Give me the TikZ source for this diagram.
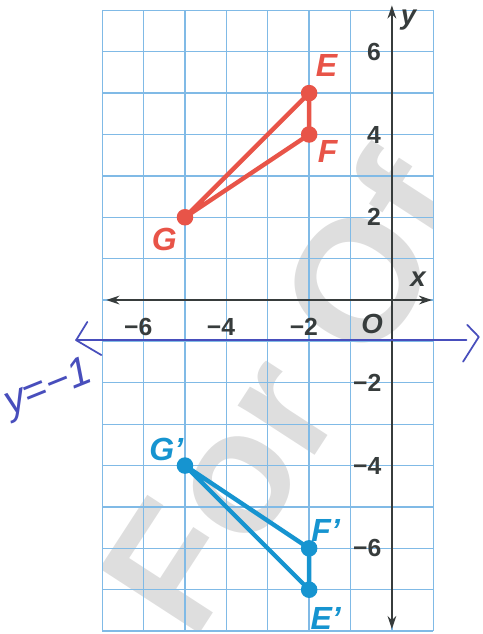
\documentclass[tikz,border=0pt]{standalone}
\usepackage{fontspec}
\setmainfont{Liberation Sans}
\usepackage{tikz}
\usetikzlibrary{arrows.meta,positioning}
\definecolor{gridblue}{RGB}{128,186,230}
\definecolor{axisgray}{RGB}{55,60,60}
\definecolor{ptred}{RGB}{232,84,72}
\definecolor{ptblue}{RGB}{22,148,208}
\definecolor{penblue}{RGB}{72,78,188}

\begin{document}
\begin{tikzpicture}[
    ticklbl/.style={font=\bfseries\fontsize{17}{17}\selectfont, text=axisgray, inner sep=0pt},
    axlbl/.style={font=\bfseries\itshape\fontsize{19}{19}\selectfont, text=axisgray, inner sep=0pt},
    ptlbl/.style={font=\bfseries\itshape\fontsize{22}{22}\selectfont, inner sep=0pt},
    ptdot/.style={circle, fill, inner sep=0pt, minimum size=0.4cm},
    side/.style={line width=3pt, line join=round, line cap=round},
    axisline/.style={axisgray, line width=1.3pt, {Stealth[length=9pt,width=6pt]}-{Stealth[length=9pt,width=6pt]}}
]
        \useasboundingbox (-9.47,-8.07) rectangle (2.2,7.25);
        % watermark behind the grid
        \begin{scope}
            \clip (-7,-8) rectangle (1,7);
            \node[rotate=57, anchor=base west, text=black!13, inner sep=0pt,
                font=\bfseries\fontsize{119}{119}\selectfont] (mark) at (-4.8,-8.3) {For Of};
        \end{scope}
        \draw[gridblue, line width=0.9pt] (-7,-8) grid (1,7);
        % axes
        \draw[axisline] (-6.9,0) -- (0.97,0);
        \draw[axisline] (0,-7.95) -- (0,7.12);
        \node[axlbl] (xname) at (0.63,0.5) {x};
        \node[axlbl] (yname) at (0.4,6.77) {y};
        \node[axlbl] (orig) at (-0.48,-0.58) {O};
        \foreach \x/\t in {-6/6,-4/4,-2/2}{
            \node[ticklbl, anchor=east] (xl\t) at (\x+0.22,-0.65) {−\t};
        }
        \foreach \y/\t in {6/6,4/4,2/2}{
            \node[ticklbl, anchor=east] (yp\t) at (-0.26,\y) {\t};
        }
        \foreach \y/\t in {-2/2,-4/4,-6/6}{
            \node[ticklbl, anchor=east] (yn\t) at (-0.25,\y) {−\t};
        }
        % triangle EFG
        \node[ptdot, ptred] (E) at (-2,5) {};
        \node[ptdot, ptred] (F) at (-2,4) {};
        \node[ptdot, ptred] (G) at (-5,2) {};
        \draw[side, ptred] (E.center) -- (F.center) -- (G.center) -- cycle;
        \node[ptlbl, text=ptred] (Elbl) at (-1.58,5.66) {E};
        \node[ptlbl, text=ptred] (Flbl) at (-1.55,3.6) {F};
        \node[ptlbl, text=ptred] (Glbl) at (-5.5,1.47) {G};
        % image E'F'G'
        \node[ptdot, ptblue] (E1) at (-2,-7) {};
        \node[ptdot, ptblue] (F1) at (-2,-6) {};
        \node[ptdot, ptblue] (G1) at (-5,-4) {};
        \draw[side, ptblue] (E1.center) -- (F1.center) -- (G1.center) -- cycle;
        \node[ptlbl, text=ptblue] (E1lbl) at (-1.6,-7.7) {E'};
        \node[ptlbl, text=ptblue] (F1lbl) at (-1.6,-5.57) {F'};
        \node[ptlbl, text=ptblue] (G1lbl) at (-5.45,-3.6) {G'};
        % pen line y=-1
        \coordinate (penL) at (-7.63,-0.97);
        \coordinate (penR) at (1.8,-0.97);
        \draw[penblue, line width=1.2pt, line cap=round] (penL) -- (penR);
        \draw[penblue, line width=1.2pt, line cap=round, line join=round]
            (-7.36,-0.53) -- (penL) -- (-7.02,-1.33);
        \draw[penblue, line width=1.2pt, line cap=round, line join=round]
            (1.82,-0.6) -- (2.1,-0.89) -- (1.72,-1.49);
        \node[penblue, rotate=22, inner sep=0pt, font=\itshape\fontsize{28}{28}\selectfont] (pentext) at (-8.3,-2.15) {y=−1};
\end{tikzpicture}
\end{document}
